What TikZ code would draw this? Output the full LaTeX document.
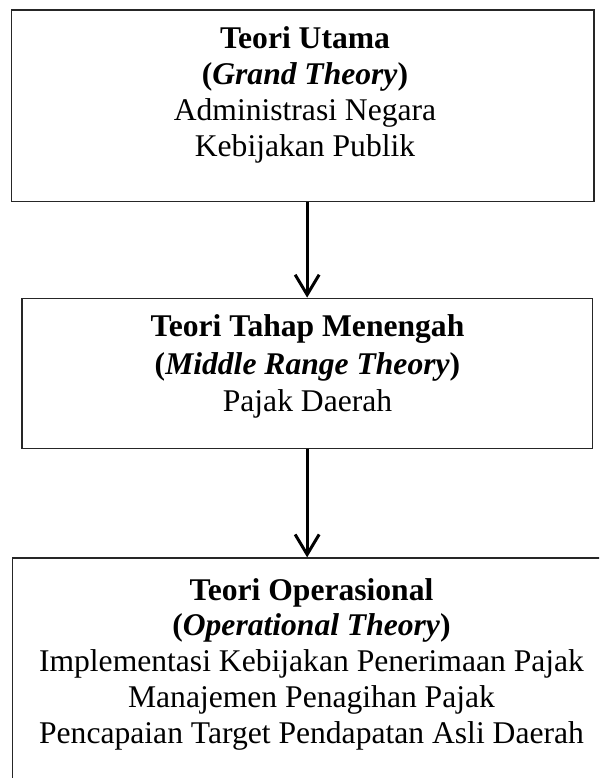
\documentclass[tikz,border=0pt]{standalone}
\usepackage{fontspec}
\setmainfont{Liberation Serif}
\usetikzlibrary{arrows.meta}
\begin{document}
\begin{tikzpicture}[x=1pt,y=-1pt,
  box/.style={draw=black!85,line width=1.3pt,inner sep=0pt,rectangle},
  txt/.style={anchor=base,inner sep=0pt,font=\fontsize{31.6}{36}\selectfont},
  arr/.style={line width=3pt,-{Straight Barb[length=20pt,width=24pt]}}]
\useasboundingbox (0,0) rectangle (599,778);
\clip (0,0) rectangle (599,778);
% boxes
\node[box,minimum width=582.3pt,minimum height=191.7pt] (b1) at (302.85,105.85) {};
\node[box,minimum width=570.3pt,minimum height=150pt] (b2) at (307.15,373.3) {};
\node[box,minimum width=627.3pt,minimum height=272pt] (b3) at (326.35,694) {};
% box 1 text
\node[txt] (t11) at (305,48.3) {\bfseries Teori Utama};
\node[txt] (t12) at (305,84.4) {\bfseries(\textit{Grand Theory})};
\node[txt] (t13) at (305,120.5) {Administrasi Negara};
\node[txt] (t14) at (305,156.6) {Kebijakan Publik};
% box 2 text
\node[txt] (t21) at (307.5,336.7) {\bfseries Teori Tahap Menengah};
\node[txt] (t22) at (307.5,374.3) {\bfseries(\textit{Middle Range Theory})};
\node[txt] (t23) at (307.5,411.7) {Pajak Daerah};
% box 3 text
\node[txt] (t31) at (311.5,600) {\bfseries Teori Operasional};
\node[txt] (t32) at (311.5,635.8) {\bfseries(\textit{Operational Theory})};
\node[txt] (t33) at (311.5,671.7) {Implementasi Kebijakan Penerimaan Pajak};
\node[txt] (t34) at (311.5,707.5) {Manajemen Penagihan Pajak};
\node[txt] (t35) at (311.5,743.3) {Pencapaian Target Pendapatan Asli Daerah};
% arrows
\draw[arr] (b1.south -| b2.north) -- (b2.north);
\draw[arr] (b2.south) -- (b2.south |- b3.north);
\end{tikzpicture}
\end{document}
